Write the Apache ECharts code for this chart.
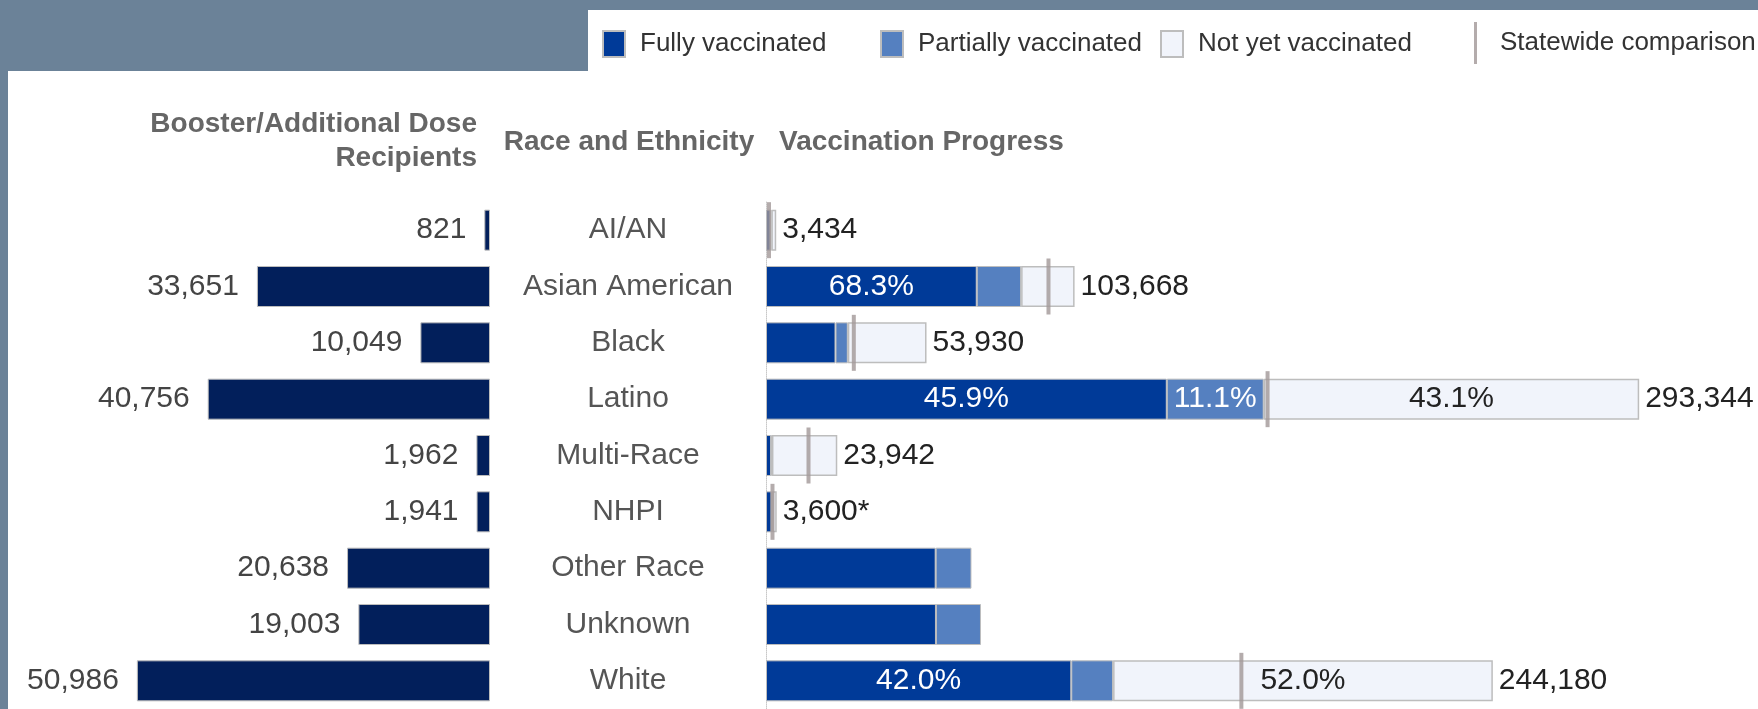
<!DOCTYPE html>
<html lang="en">
<head>
    <meta charset="UTF-8">
    <title>Vaccination Progress by Race and Ethnicity</title>
    <script src="https://cdn.jsdelivr.net/npm/echarts/dist/echarts.min.js"></script>
    <style>
        html, body {
            margin: 0;
            padding: 0;
            background: #6b8298;
        }
        #container {
            width: 1758px;
            height: 709px;
        }
    </style>
</head>
<body>
<div id="container"></div>
<script>
    // data
    var categories = ['AI/AN', 'Asian American', 'Black', 'Latino', 'Multi-Race', 'NHPI', 'Other Race', 'Unknown', 'White'];
    var boosterRecipients = [821, 33651, 10049, 40756, 1962, 1941, 20638, 19003, 50986];
    var fullyVaccinated = [1500, 70805, 23350, 134645, 1700, 1850, 57000, 57100, 102556];
    var partiallyVaccinated = [300, 14900, 4130, 32561, 300, 250, 12030, 15120, 14040];
    var notYetVaccinated = [1634, 17963, 26450, 126138, 21942, 1500, '-', '-', 127584];
    var statewideComparison = [1000, 94900, 29500, 168500, 14280, 2180, '-', '-', 159700];
    var totalLabels = ['3,434', '103,668', '53,930', '293,344', '23,942', '3,600*', '', '', '244,180'];
    var fullyLabels = ['', '68.3%', '', '45.9%', '', '', '', '', '42.0%'];
    var partialLabels = ['', '', '', '11.1%', '', '', '', '', ''];
    var notYetLabels = ['', '', '', '43.1%', '', '', '', '', '52.0%'];

    var FONT = '"Liberation Sans", Arial, sans-serif';
    var BORDER = '#bdbdbd';

    // zero-width bar on top of each stack, only used to carry the total label
    var totalCarrier = categories.map(function (c, i) {
        return totalLabels[i] ? 0 : '-';
    });

    var myChart = echarts.init(document.getElementById('container'));

    function legendItem(name, left) {
        return {
            data: [{name: name, icon: 'rect'}],
            left: left,
            top: 30,
            padding: 0,
            itemWidth: 22,
            itemHeight: 26,
            selectedMode: false,
            textStyle: {fontSize: 26, color: '#333', fontFamily: FONT, padding: [0, 0, 0, 10]}
        };
    }

    var option = {
        animation: false,
        textStyle: {fontFamily: FONT},
        graphic: [
            {type: 'rect', shape: {x: 588, y: 10, width: 1170, height: 62}, style: {fill: '#fff'}, z: -10},
            {type: 'rect', shape: {x: 8, y: 71, width: 1750, height: 638}, style: {fill: '#fff'}, z: -10},
            {
                type: 'text', x: 477, y: 107,
                style: {
                    text: 'Booster/Additional Dose\nRecipients', align: 'right', verticalAlign: 'top',
                    fill: '#666', font: 'bold 28px ' + FONT, lineHeight: 34
                }
            },
            {
                type: 'text', x: 629, y: 142,
                style: {text: 'Race and Ethnicity', align: 'center', verticalAlign: 'middle', fill: '#666', font: 'bold 28px ' + FONT}
            },
            {
                type: 'text', x: 779, y: 142,
                style: {text: 'Vaccination Progress', align: 'left', verticalAlign: 'middle', fill: '#666', font: 'bold 28px ' + FONT}
            }
        ],
        legend: [
            legendItem('Fully vaccinated', 602),
            legendItem('Partially vaccinated', 880),
            legendItem('Not yet vaccinated', 1160),
            {
                data: [{name: 'Statewide comparison', icon: 'rect'}],
                left: 1474,
                top: 22,
                padding: 0,
                itemWidth: 3,
                itemHeight: 42,
                selectedMode: false,
                textStyle: {fontSize: 26, color: '#333', fontFamily: FONT, padding: [0, 0, 0, 18]}
            }
        ],
        grid: [
            {left: 10, width: 480, top: 202, height: 507},
            {left: 766, width: 893, top: 202, height: 507}
        ],
        xAxis: [
            {
                gridIndex: 0, type: 'value', inverse: true, min: 0, max: 69300,
                axisLabel: {show: false}, axisTick: {show: false}, splitLine: {show: false},
                axisLine: {show: true, lineStyle: {color: '#e4e4e4', width: 1}}
            },
            {
                gridIndex: 1, type: 'value', min: 0, max: 300000, show: false
            }
        ],
        yAxis: [
            {gridIndex: 0, type: 'category', data: categories, inverse: true, show: false},
            {
                gridIndex: 1, type: 'category', data: categories, inverse: true,
                axisTick: {show: false},
                axisLine: {show: true, lineStyle: {color: '#c8c8c8', type: 'dotted', width: 1}},
                axisLabel: {align: 'center', margin: 138, fontSize: 30, color: '#555', fontFamily: FONT}
            }
        ],
        series: [
            {
                name: 'Booster', type: 'bar', xAxisIndex: 0, yAxisIndex: 0,
                data: boosterRecipients, barWidth: 41,
                itemStyle: {color: '#021f5b', borderColor: BORDER, borderWidth: 1},
                label: {
                    show: true, position: 'left', distance: 18, fontSize: 30, color: '#444',
                    formatter: function (p) { return p.value.toLocaleString('en-US'); }
                }
            },
            {
                name: 'Fully vaccinated', type: 'bar', stack: 'v', xAxisIndex: 1, yAxisIndex: 1,
                data: fullyVaccinated, barWidth: 41,
                itemStyle: {color: '#003a98', borderColor: BORDER, borderWidth: 1},
                label: {
                    show: true, position: 'inside', fontSize: 30, color: '#fff',
                    formatter: function (p) { return fullyLabels[p.dataIndex]; }
                }
            },
            {
                name: 'Partially vaccinated', type: 'bar', stack: 'v', xAxisIndex: 1, yAxisIndex: 1,
                data: partiallyVaccinated, barWidth: 41,
                itemStyle: {color: '#5580c0', borderColor: BORDER, borderWidth: 1},
                label: {
                    show: true, position: 'inside', fontSize: 30, color: '#fff',
                    formatter: function (p) { return partialLabels[p.dataIndex]; }
                }
            },
            {
                name: 'Not yet vaccinated', type: 'bar', stack: 'v', xAxisIndex: 1, yAxisIndex: 1,
                data: notYetVaccinated, barWidth: 41,
                itemStyle: {color: '#f1f4fb', borderColor: BORDER, borderWidth: 1.5},
                label: {
                    show: true, position: 'inside', fontSize: 30, color: '#222',
                    formatter: function (p) { return notYetLabels[p.dataIndex]; }
                }
            },
            {
                name: 'Total', type: 'bar', stack: 'v', xAxisIndex: 1, yAxisIndex: 1,
                data: totalCarrier, barWidth: 41,
                itemStyle: {color: 'rgba(0,0,0,0)'},
                label: {
                    show: true, position: 'right', distance: 6, fontSize: 30, color: '#222',
                    formatter: function (p) { return totalLabels[p.dataIndex]; }
                }
            },
            {
                name: 'Statewide comparison', type: 'scatter', xAxisIndex: 1, yAxisIndex: 1,
                data: statewideComparison.map(function (v, i) { return [v, i]; }),
                symbol: 'rect', symbolSize: [4, 56], z: 5,
                itemStyle: {color: '#a19797'}
            }
        ]
    };
    myChart.setOption(option);
</script>
</body>
</html>
